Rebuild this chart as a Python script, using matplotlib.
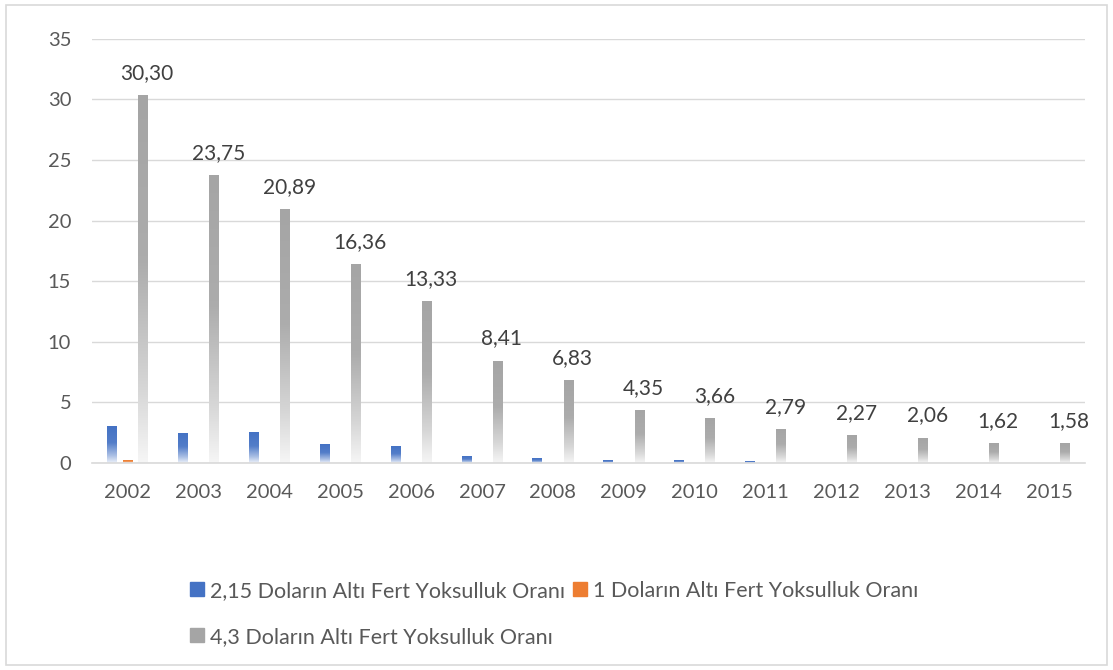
import matplotlib.pyplot as plt
import matplotlib
import numpy as np
from matplotlib.colors import LinearSegmentedColormap, to_rgb
from matplotlib.patches import Rectangle

matplotlib.rcParams['font.family'] = ['Lato', 'DejaVu Sans']

years = ['2002', '2003', '2004', '2005', '2006', '2007', '2008',
         '2009', '2010', '2011', '2012', '2013', '2014', '2015']
rate_215 = [3.0, 2.4, 2.5, 1.5, 1.4, 0.5, 0.4, 0.2, 0.2, 0.1, 0.0, 0.0, 0.0, 0.0]
rate_1 = [0.2, 0, 0, 0, 0, 0, 0, 0, 0, 0, 0, 0, 0, 0]
rate_43 = [30.30, 23.75, 20.89, 16.36, 13.33, 8.41, 6.83,
           4.35, 3.66, 2.79, 2.27, 2.06, 1.62, 1.58]
labels = ['2,15 Doların Altı Fert Yoksulluk Oranı',
          '1 Doların Altı Fert Yoksulluk Oranı',
          '4,3 Doların Altı Fert Yoksulluk Oranı']
colors = ['#4472C4', '#ED7D31', '#A5A5A5']

fig = plt.figure(figsize=(11.13, 6.70), dpi=100)
ax = fig.add_axes([0.0827, 0.309, 0.892, 0.633])

# outer frame like the Excel chart area
fig.patches.append(Rectangle((0.005, 0.007), 0.99, 0.986, transform=fig.transFigure,
                             fill=False, edgecolor='#D9D9D9', linewidth=1.2))

x = np.arange(len(years))
w = 0.14
off = 0.22
series = [rate_215, rate_1, rate_43]


def grad_fill(bars, color):
    c = np.array(to_rgb(color))
    cmap = LinearSegmentedColormap.from_list(
        'g', [(0.0, c), (0.45, c * 0.92 + 0.08), (0.8, c * 0.45 + 0.55), (1.0, c * 0.1 + 0.9)])
    img = np.linspace(0, 1, 256).reshape(-1, 1)
    for b in bars:
        h = b.get_height()
        if h <= 0:
            continue
        x0 = b.get_x()
        ax.imshow(img, cmap=cmap, aspect='auto', extent=(x0, x0 + b.get_width(), 0, h),
                  origin='upper', zorder=2, interpolation='bilinear')


handles = []
for i, (vals, col) in enumerate(zip(series, colors)):
    bars = ax.bar(x + (i - 1) * off, vals, w, color='none', edgecolor='none', label=labels[i])
    grad_fill(bars, col)
    handles.append(Rectangle((0, 0), 1, 1, color=col))

for xi, v in zip(x, rate_43):
    ax.annotate(f'{v:.2f}'.replace('.', ','), (xi + off, v), xytext=(3, 9),
                textcoords='offset points', ha='center', va='bottom',
                fontsize=15, color='#404040')

ax.set_xlim(-0.5, len(years) - 0.5)
ax.set_ylim(0, 35)
ax.set_yticks(range(0, 36, 5))
ax.set_xticks(x)
ax.set_xticklabels(years)
ax.tick_params(length=0, labelsize=14.5, labelcolor='#595959')
ax.tick_params(axis='x', pad=15.5)
ax.tick_params(axis='y', pad=15)
ax.grid(axis='y', color='#D9D9D9', linewidth=1)
ax.set_axisbelow(True)
for s in ['top', 'right', 'left']:
    ax.spines[s].set_visible(False)
ax.spines['bottom'].set_color('#D9D9D9')
ax.spines['bottom'].set_linewidth(1.2)

order = [0, 2, 1]
fig.legend([handles[i] for i in order], [labels[i] for i in order], ncol=2,
           loc='upper left', bbox_to_anchor=(0.153, 0.162), frameon=False,
           fontsize=15.5, labelcolor='#595959', handlelength=0.65, handleheight=0.6,
           handletextpad=0.28, columnspacing=0.37, labelspacing=1.2)

fig.savefig('out.png', dpi=100)
